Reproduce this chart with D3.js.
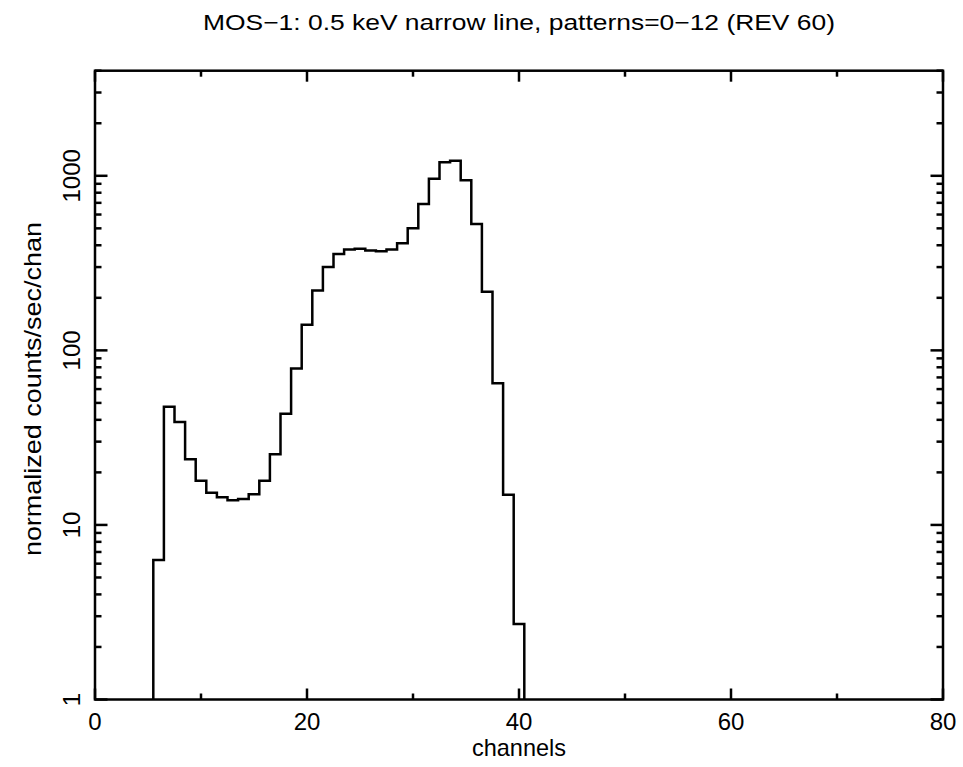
<!DOCTYPE html>
<html><head><meta charset="utf-8">
<script src="https://cdn.jsdelivr.net/npm/d3@7"></script>
<style>body{margin:0;background:#fff}svg{display:block}</style>
</head><body>
<svg id="c" width="963" height="767"></svg>
<script>
const titleText = "MOS\u22121: 0.5 keV narrow line, patterns=0\u221212 (REV 60)";
const xLabel = "channels";
const yLabel = "normalized counts/sec/chan";
const channels = [6,7,8,9,10,11,12,13,14,15,16,17,18,19,20,21,22,23,24,25,26,27,28,29,30,31,32,33,34,35,36,37,38,39,40];
const counts = [6.3,47.6,38.9,23.8,17.9,15.3,14.4,13.85,14.1,15.0,17.9,25.4,43.3,78.7,140,220,300,356,378,382,373,370,378,411,501,689,962,1197,1218,944,529,217,64.9,14.9,2.71];
const xMajorTicks = [0,20,40,60,80];
const xMinorTicks = [10,30,50,70];
const yMajorTicks = [1,10,100,1000];
const yTickLabels = ["1","10","100","1000"];

const L=95, R=943, T=70.7, B=699.5;
const svg = d3.select("#c");
const x = d3.scaleLinear().domain([0,80]).range([L,R]);
const y = d3.scaleLog().domain([1,4000]).range([B,T]);

const yMinor = [];
for (let d=1; d<=1000; d*=10) for (let k=2;k<=9;k++){ const v=k*d; if (v<=4000) yMinor.push(v); }

const g = svg.append("g").attr("stroke","#000").attr("stroke-width",2.5).attr("fill","none");
xMajorTicks.forEach(t=>{
  g.append("line").attr("x1",x(t)).attr("x2",x(t)).attr("y1",B).attr("y2",B-11);
  g.append("line").attr("x1",x(t)).attr("x2",x(t)).attr("y1",T).attr("y2",T+11);
});
xMinorTicks.forEach(t=>{
  g.append("line").attr("x1",x(t)).attr("x2",x(t)).attr("y1",B).attr("y2",B-6);
  g.append("line").attr("x1",x(t)).attr("x2",x(t)).attr("y1",T).attr("y2",T+6);
});
yMajorTicks.forEach(t=>{
  g.append("line").attr("x1",L).attr("x2",L+12.5).attr("y1",y(t)).attr("y2",y(t));
  g.append("line").attr("x1",R).attr("x2",R-12.5).attr("y1",y(t)).attr("y2",y(t));
});
yMinor.forEach(t=>{
  g.append("line").attr("x1",L).attr("x2",L+6.5).attr("y1",y(t)).attr("y2",y(t));
  g.append("line").attr("x1",R).attr("x2",R-6.5).attr("y1",y(t)).attr("y2",y(t));
});
const pts = [[channels[0]-0.5, 1]];
channels.forEach((c,i)=>pts.push([c-0.5, counts[i]]));
const last = channels[channels.length-1];
pts.push([last+0.5, counts[counts.length-1]]);
pts.push([last+0.5, 1]);
const line = d3.line().x(d=>x(d[0])).y(d=>y(d[1])).curve(d3.curveStepAfter);
g.append("path").attr("d", line(pts)).attr("stroke-linejoin","miter");
g.append("rect").attr("x",L).attr("y",T).attr("width",R-L).attr("height",B-T);

const font = "'Liberation Sans', Arial, sans-serif";
const tg = svg.append("g").attr("font-family",font).attr("fill","#000");
xMajorTicks.forEach(t=>{
  tg.append("text").attr("x",x(t)).attr("y",730).attr("text-anchor","middle").attr("font-size",24).text(String(t));
});
yMajorTicks.forEach((t,i)=>{
  tg.append("text").attr("transform",`translate(80,${y(t)}) rotate(-90)`).attr("text-anchor","middle").attr("font-size",24).text(yTickLabels[i]);
});
tg.append("text").attr("x",(L+R)/2).attr("y",756).attr("text-anchor","middle").attr("font-size",24)
  .attr("textLength",94).attr("lengthAdjust","spacingAndGlyphs").text(xLabel);
tg.append("text").attr("transform",`translate(41,${(T+B)/2+4}) rotate(-90)`).attr("text-anchor","middle").attr("font-size",24)
  .attr("textLength",334).attr("lengthAdjust","spacingAndGlyphs").text(yLabel);
tg.append("text").attr("x",(L+R)/2).attr("y",30).attr("text-anchor","middle").attr("font-size",22)
  .attr("textLength",632).attr("lengthAdjust","spacingAndGlyphs").text(titleText);
</script>
</body></html>
